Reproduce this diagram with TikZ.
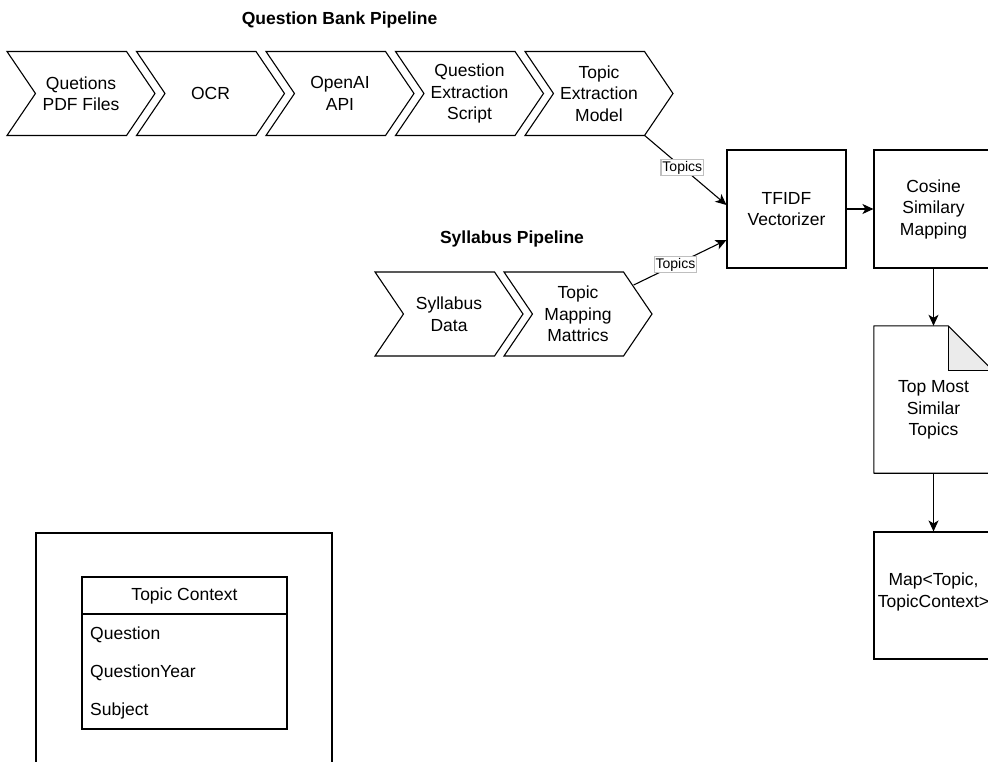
\documentclass[tikz,border=0pt]{standalone}
\usepackage{fontspec}
\setmainfont{Liberation Sans}
\usetikzlibrary{positioning,shapes.symbols,arrows.meta,calc}

\begin{document}
\begin{tikzpicture}[x=1pt,y=-1pt,
	font=\fontsize{17.5}{21.5}\selectfont,
	chev/.style={
		draw, signal, signal from=west, signal to=east,
		signal pointer angle=111.7,
		minimum width=148pt, minimum height=84pt,
		inner sep=0pt, align=center, line width=1.1pt
	},
	box/.style={
		draw, line width=1.1pt, inner sep=0pt, align=center
	},
	title/.style={font=\fontsize{17.5}{21.5}\selectfont\bfseries},
	flow/.style={-{Stealth[length=11pt,width=10pt,inset=3pt]}, line width=1.1pt},
	tag/.style={
		draw=black!25, fill=white, inner sep=1.5pt,
		font=\fontsize{14}{16}\selectfont
	},
	]

	\clip (0,0) rectangle (988,762);

	% question bank pipeline
	\node[title] (qbtitle) at (339.5,20) {Question Bank Pipeline};
	\node[chev] (qpdf) at (81,93.5) {Quetions\\PDF Files};
	\node[chev] (ocr) at (210.5,93.5) {OCR};
	\node[chev] (oai) at (340,93.5) {OpenAI\\API};
	\node[chev] (qes) at (469.5,93.5) {Question\\Extraction\\Script};
	\node[chev] (tem) at (599,93.5) {Topic\\Extraction\\Model};

	% syllabus pipeline
	\node[title] (sytitle) at (512,239) {Syllabus Pipeline};
	\node[chev] (syd) at (449,314) {Syllabus\\Data};
	\node[chev] (tmm) at (578,314) {Topic\\Mapping\\Mattrics};

	% matching
	\node[box, minimum width=119pt, minimum height=118pt] (tfidf) at (786.5,209) {TFIDF\\Vectorizer};
	\node[box, minimum width=119pt, minimum height=118pt] (cos) at (933.5,209) {Cosine\\Similary\\Mapping};

	\node[minimum width=119pt, minimum height=147pt, inner sep=0pt] (doc) at (933.5,399.5) {};
	\fill[black!8] ($(doc.north east)+(-45,0)$) -- ($(doc.north east)+(0,45)$) -- ($(doc.north east)+(-45,45)$) -- cycle;
	\draw[line width=1.1pt, line join=round] (doc.north west) -- ($(doc.north east)+(-45,0)$) -- ($(doc.north east)+(0,45)$) -- (doc.south east) -- (doc.south west) -- cycle;
	\draw[line width=1.1pt] ($(doc.north east)+(-45,0)$) -- ($(doc.north east)+(-45,45)$) -- ($(doc.north east)+(0,45)$);
	\node[align=center] (doctxt) at (933.5,410) {Top Most\\Similar\\Topics};

	\node[box, minimum width=119pt, minimum height=127pt] (map) at (933.5,595.5) {};
	\node[align=center] (maptxt) at (933.5,592) {Map<Topic,\\TopicContext>};

	% connectors
	\draw[flow] ($(tem.east)+(-29,42)$) -- node[tag, pos=0.46] {Topics} ($(tfidf.west)+(0,-4)$);
	\draw[flow] ($(tmm.east)+(-19,-29)$) -- node[tag, pos=0.45] {Topics} ($(tfidf.west)+(0,31)$);
	\draw[flow] (tfidf.east) -- (cos.west);
	\draw[flow] (cos.south) -- (doc.north);
	\draw[flow] (doc.south) -- (map.north);

	% topic context
	\node[box, minimum width=296pt, minimum height=267pt] (frame) at (184,666.5) {};
	\node[box, minimum width=205pt, minimum height=152pt] (ctx) at (184.5,653) {};
	\draw[line width=1.1pt] (ctx.west |- 0,614) -- (ctx.east |- 0,614);
	\node (ctxhead) at (184.5,596) {Topic Context};
	\node[anchor=west, inner sep=0pt] (fq) at (90,635) {Question};
	\node[anchor=west, inner sep=0pt] (fqy) at (90,673) {QuestionYear};
	\node[anchor=west, inner sep=0pt] (fs) at (90,711) {Subject};

\end{tikzpicture}
\end{document}
